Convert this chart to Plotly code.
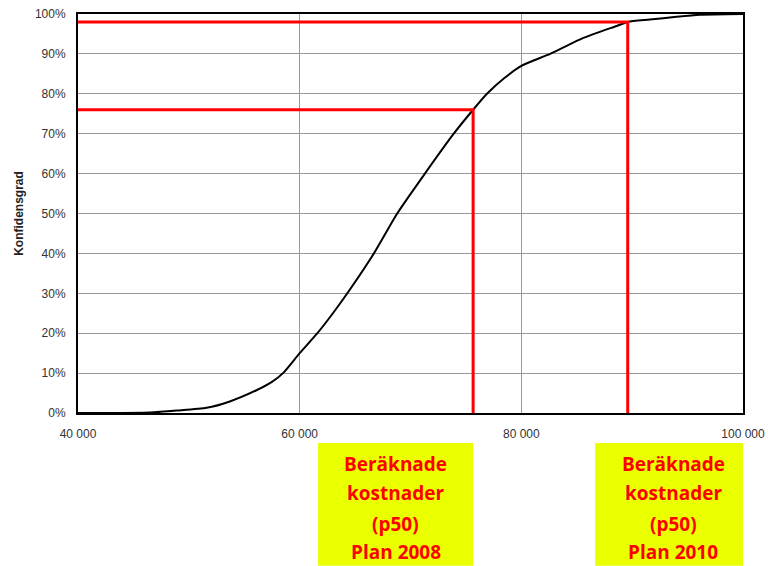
import plotly.graph_objects as go

# Cumulative cost distribution (S-curve)
cost = [40000, 44000, 46500, 48900, 51600, 53700, 56100, 57500, 58500, 60000, 61600,
        63000, 64300, 66700, 68800, 71300, 73900, 75650, 76900, 78500, 80000, 82600,
        85600, 88600, 89600, 91600, 94000, 96100, 100000]
confidence = [0, 0, 0.1, 0.6, 1.3, 2.9, 5.7, 7.8, 10, 15, 20,
              25, 30, 40, 50, 60, 70, 76, 80, 84, 87, 90,
              94, 97, 98, 98.6, 99.3, 99.8, 100]

# Marked p-levels
marker_cost = [75650, 89600]
marker_conf = [76, 98]
box_labels = [["Beräknade", "kostnader", "(p50)", "Plan 2008"],
              ["Beräknade", "kostnader", "(p50)", "Plan 2010"]]
box_ranges = [(61660, 75650), (86660, 100740)]

x_ticks = [40000, 60000, 80000, 100000]
x_tick_text = ["40 000", "60 000", "80 000", "100 000"]
y_ticks = list(range(0, 101, 10))
y_tick_text = [f"{v}%" for v in y_ticks]

fig = go.Figure()
fig.add_trace(go.Scatter(x=cost, y=confidence, mode="lines",
                         line=dict(color="black", width=2, shape="spline", smoothing=0.6),
                         showlegend=False, hoverinfo="skip"))
for c, p in zip(marker_cost, marker_conf):
    fig.add_trace(go.Scatter(x=[40000, c, c], y=[p, p, 0], mode="lines",
                             line=dict(color="#ff0000", width=3),
                             showlegend=False, hoverinfo="skip"))

shapes = []
annotations = []
line_y = [-0.128, -0.201, -0.279, -0.349]
for (x0, x1), lines in zip(box_ranges, box_labels):
    shapes.append(dict(type="rect", xref="x", yref="paper", x0=x0, x1=x1,
                       y0=-0.383, y1=-0.0752, fillcolor="#eaff00",
                       line=dict(width=0), layer="below"))
    for ly, t in zip(line_y, lines):
        annotations.append(dict(x=(x0 + x1) / 2, y=ly, xref="x", yref="paper",
                                text=f"<b>{t}</b>", showarrow=False,
                                font=dict(family="Open Sans", size=19, color="#ff0000"),
                                xanchor="center", yanchor="middle"))

fig.update_layout(
    width=768, height=566,
    margin=dict(l=78, r=25, t=14, b=153, autoexpand=False),
    paper_bgcolor="white", plot_bgcolor="white",
    shapes=shapes, annotations=annotations,
    font=dict(family="Liberation Sans, Arial", size=12, color="#333333"),
)
fig.update_xaxes(range=[40000, 100000], tickvals=x_ticks, ticktext=x_tick_text,
                 showgrid=True, gridcolor="#999999", gridwidth=1,
                 showline=True, linecolor="black", linewidth=2, mirror=True,
                 zeroline=False, ticks="", ticklabelstandoff=9, automargin=False,
                 ticklabeloverflow="allow",
                 tickfont=dict(size=12, color="#333333"))
fig.update_yaxes(range=[0, 100], tickvals=y_ticks, ticktext=y_tick_text,
                 showgrid=True, gridcolor="#999999", gridwidth=1,
                 showline=True, linecolor="black", linewidth=2, mirror=True,
                 zeroline=False, ticks="", ticklabelstandoff=8, automargin=False,
                 ticklabeloverflow="allow",
                 tickfont=dict(size=12, color="#333333"),
                 title=dict(text="<b>Konfidensgrad</b>", standoff=9,
                            font=dict(size=12, color="#222222")))

fig.write_html("out.html", config={"displayModeBar": False},
               post_script="document.body.style.margin='0';document.body.style.overflow='hidden';")
